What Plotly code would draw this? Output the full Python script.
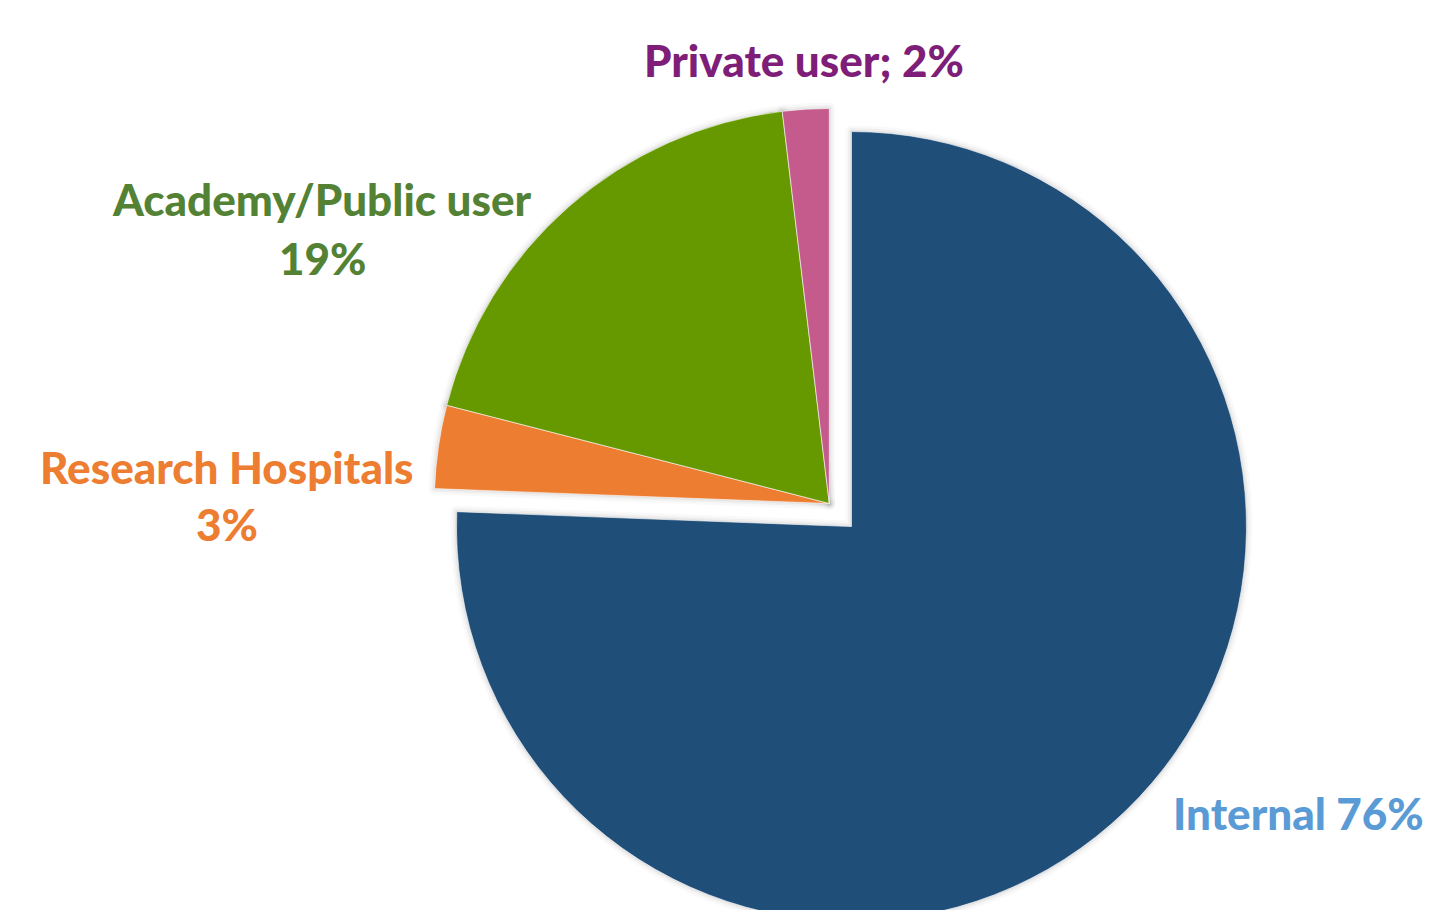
import plotly.graph_objects as go

# ---- data ----
labels = ["Internal", "Research Hospitals", "Academy/Public user", "Private user"]
values = [75.6, 3.4, 19.1, 1.9]
pct_labels = ["76%", "3%", "19%", "2%"]
slice_colors = ["#1F4E79", "#ED7D31", "#669900", "#C55A8C"]
text_colors = ["#5B9BD5", "#ED7D31", "#548235", "#7E1E78"]
pulls = [0.081, 0, 0, 0]

W, H = 1430, 1007
FONT = "Lato"
FS = 44

def px(x):
    return x / W

def py(y):
    return 1 - y / H

dom_x = [px(829.3 - 427), px(829.3 + 427)]

fig = go.Figure()
# soft shadow layers
for lw, a in [(12, 0.025), (7, 0.035), (3, 0.05)]:
    fig.add_trace(go.Pie(
        labels=labels, values=values, sort=False, direction="clockwise", rotation=0,
        pull=pulls, domain=dict(x=dom_x, y=[0, 1]),
        marker=dict(colors=["rgba(0,0,0,0)"] * 4,
                    line=dict(color=f"rgba(0,0,0,{a})", width=lw)),
        textinfo="none", hoverinfo="skip", showlegend=False,
    ))
fig.add_trace(go.Pie(
    labels=labels, values=values, sort=False, direction="clockwise", rotation=0,
    pull=pulls, domain=dict(x=dom_x, y=[0, 1]),
    marker=dict(colors=slice_colors, line=dict(color="rgba(255,255,255,0.6)", width=1)),
    textinfo="none", showlegend=False,
))

def ann(text, x, y, color, anchor="center"):
    fig.add_annotation(text=text, x=px(x), y=py(y), xref="paper", yref="paper",
                       showarrow=False, xanchor=anchor, yanchor="middle",
                       font=dict(family=FONT, size=FS, color=color, weight=900))

ann(f"{labels[3]}; {pct_labels[3]}", 803.5, 60, text_colors[3])
ann(labels[2], 322, 199, text_colors[2])
ann(pct_labels[2], 322, 258, text_colors[2])
ann(labels[1], 227, 467, text_colors[1])
ann(pct_labels[1], 227, 524, text_colors[1])
ann(f"{labels[0]} {pct_labels[0]}", 1426, 813, text_colors[0], anchor="right")

fig.update_layout(
    width=W, height=H,
    margin=dict(l=0, r=0, t=0, b=0),
    paper_bgcolor="white", plot_bgcolor="white",
    showlegend=False,
)

fig.write_html("out.html", config={"displayModeBar": False},
               post_script="document.body.style.margin='0';document.body.style.overflow='hidden';document.documentElement.style.overflow='hidden';")
